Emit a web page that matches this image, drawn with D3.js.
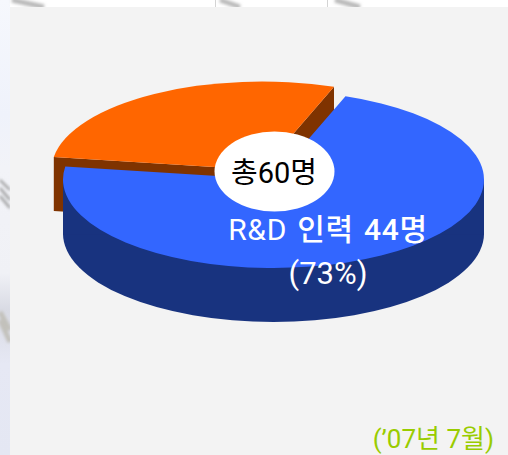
<!DOCTYPE html>
<html><head><meta charset="utf-8">
<script src="https://cdn.jsdelivr.net/npm/d3@7"></script>
<style>html,body{margin:0;padding:0;background:#fff}svg{display:block}</style>
</head><body><svg id="c" width="508" height="455"></svg>
<script>
const categories = ["R&D 인력", "기타"];
const seriesValues = [44, 16];
const totalLabel = "총60명";
const mainLabelParts = ["R&D ", "인력 44명"];
const shareLabel = "(73%)";
const dateLabel = "(’07년 7월)";
const sliceColors = ["#3366ff", "#ff6600"];
const sideColors = ["#18337f", "#7f3300"];

const svg = d3.select("#c");
const deg = Math.PI / 180;
const rx = 210.5, ry = 88.5, depth = 54;
const centers = [[273.5, 179.5], [262, 170]];
const skew = a => a + (-10 * deg) * (1 - Math.cos(a - 20 * deg)) / 2;

// backdrop behind the panel
const defs = svg.append("defs");
defs.append("filter").attr("id", "soft").append("feGaussianBlur").attr("stdDeviation", 1.4);
const stripG = defs.append("linearGradient").attr("id", "strip").attr("x1", 0).attr("x2", 0).attr("y1", 0).attr("y2", 1);
[[0, "#f6f8fd"], [0.25, "#eff2fb"], [0.37, "#f2f3f8"], [0.6, "#f0f1f6"], [0.68, "#d9dbe4"], [0.8, "#e6e8f4"], [1, "#e4e7f3"]]
  .forEach(s => stripG.append("stop").attr("offset", s[0]).attr("stop-color", s[1]));
svg.append("rect").attr("width", 10).attr("height", 455).attr("fill", "url(#strip)");
const streaks = svg.append("g").attr("filter", "url(#soft)").attr("fill", "none");
[[[0, 180], [10, 190]], [[0, 188], [10, 200]], [[0, 196], [10, 208]], [[0, 312], [10, 330]], [[0, 320], [10, 342]]]
  .forEach((p, i) => streaks.append("path").attr("d", d3.line()(p)).attr("stroke", i < 3 ? "#8f9090" : "#c2c1bb").attr("stroke-width", i < 3 ? 2 : 5));
[[[12, 0], [44, 7]], [[220, 0], [240, 7]], [[335, 0], [360, 7]]]
  .forEach(p => streaks.append("path").attr("d", d3.line()(p)).attr("stroke", "#b9b9b9").attr("stroke-width", 5));
[215.5, 327.5].forEach(x => svg.append("line").attr("x1", x).attr("x2", x).attr("y1", 0).attr("y2", 7).attr("stroke", "#d4d4d4"));
svg.append("rect").attr("x", 10).attr("y", 7).attr("width", 498).attr("height", 448).attr("fill", "#f3f3f3");

const pie = d3.pie().sort(null).startAngle(20 * deg).endAngle(380 * deg);
const arcs = pie(seriesValues).map(d => ({...d, startAngle: skew(d.startAngle), endAngle: skew(d.endAngle)}));
const sy = ry / rx;
const pt = (c, a) => [c[0] + rx * Math.sin(a), c[1] - ry * Math.cos(a)];
const arc = d3.arc().innerRadius(0).outerRadius(rx);

// orange walls and top
const oc = centers[1], oa = arcs[1];
const oS = pt(oc, oa.startAngle), oE = pt(oc, oa.endAngle);
[oS, oE].forEach(p => {
  svg.append("path").attr("fill", sideColors[1]).attr("d", d3.line()([
    p, [p[0], p[1] + depth], [oc[0], oc[1] + depth], oc
  ]));
});
svg.append("path").attr("transform", `translate(${oc}) scale(1,${sy})`).attr("fill", sliceColors[1]).attr("d", arc(oa));

// blue side and top
const bc = centers[0], ba = arcs[0];
svg.append("path").attr("transform", `translate(${bc[0]},${bc[1] + depth}) scale(1,${sy})`).attr("fill", sideColors[0])
  .attr("d", arc({startAngle: 90 * deg, endAngle: 270 * deg}));
svg.append("rect").attr("x", bc[0] - rx).attr("y", bc[1]).attr("width", 2 * rx).attr("height", depth + 1).attr("fill", sideColors[0]);
svg.append("path").attr("transform", `translate(${bc}) scale(1,${sy})`).attr("fill", sliceColors[0]).attr("d", arc(ba));

// centre hole
svg.append("ellipse").attr("cx", 274.5).attr("cy", 171.5).attr("rx", 60).attr("ry", 40).attr("fill", "#fff");

const font = "Roboto,'Noto Sans CJK KR',sans-serif";
const txt = (s, x, y, size, fill, anchor, w) => svg.append("text").text(s).attr("x", x).attr("y", y)
  .attr("font-family", font).attr("font-size", size).attr("fill", fill).attr("text-anchor", anchor).attr("font-weight", w || 400);
txt(totalLabel, 274, 183, 29, "#000", "middle");
const main = txt("", 328, 240, 30, "#fff", "middle").attr("word-spacing", 2).attr("letter-spacing", 0.7).attr("xml:space", "preserve").style("white-space", "pre");
mainLabelParts.forEach((s, i) => main.append("tspan").text(s).attr("font-weight", i ? 500 : 400));
txt(shareLabel, 328, 284, 31, "#fff", "middle");
txt(dateLabel, 494, 448, 26, "#99cc00", "end");
</script></body></html>
